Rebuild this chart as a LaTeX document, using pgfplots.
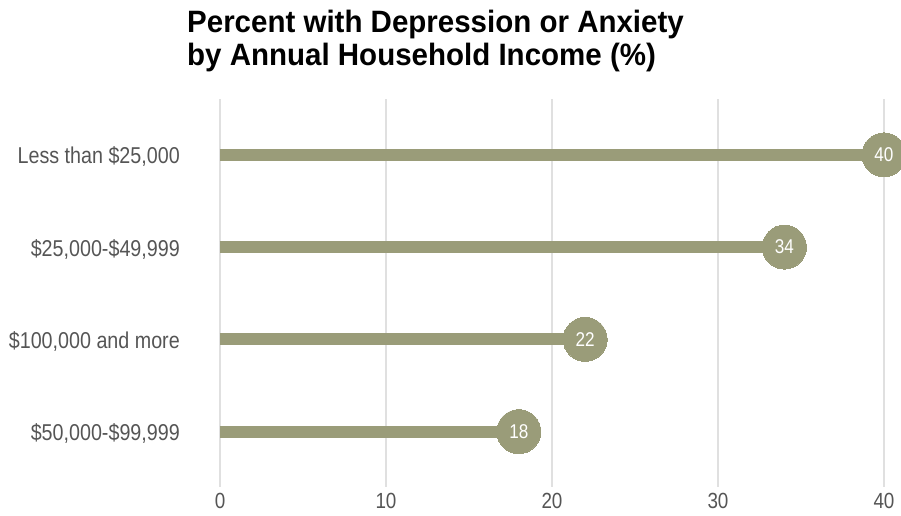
\documentclass[border=0pt]{standalone}
\usepackage{pgfplots}
\pgfplotsset{compat=1.18}
\usepackage{fontspec}
\setmainfont{Liberation Sans}
\newfontfamily\labfont{Liberation Sans}[FakeStretch=0.86]
\newfontfamily\titfont{Liberation Sans}[FakeStretch=0.955]
\definecolor{lol}{RGB}{154,156,121}
\definecolor{labgray}{RGB}{85,85,85}
\definecolor{gridgray}{RGB}{224,224,224}
\begin{document}
\begin{tikzpicture}
\useasboundingbox (-220bp,-29bp) rectangle (681bp,487bp);
\begin{axis}[
  at={(0,0)}, anchor=south west,
  scale only axis, width=664bp, height=387.5bp,
  xmin=0, xmax=40, ymin=-0.6, ymax=3.6,
  clip=false,
  axis line style={draw=none},
  major tick length=0pt,
  xtick={0,10,20,30,40},
  ytick={0,1,2,3},
  yticklabels={{\$50,000-\$99,999},{\$100,000 and more},{\$25,000-\$49,999},{Less than \$25,000}},
  xmajorgrids, ymajorgrids=false,
  grid style={color=gridgray, line width=1.1bp},
  /pgf/number format/assume math mode=true,
  yticklabel style={anchor=east, inner sep=0pt, xshift=-40bp, yshift=-2bp, font=\labfont\fontsize{23}{27}\selectfont, text=labgray},
  xticklabel style={anchor=north, inner sep=0pt, yshift=-6bp, font=\labfont\fontsize{22}{26}\selectfont, text=labgray},
]
\addplot[xcomb, line width=12bp, color=lol] coordinates {(18,0) (22,1) (34,2) (40,3)};
\addplot[color=lol, only marks, mark=*, mark size=22bp, mark options={fill=lol, draw=lol, line width=0pt},
  point meta=x, nodes near coords, nodes near coords align=center,
  every node near coord/.append style={anchor=center, text=white, font=\labfont\fontsize{20}{24}\selectfont,
    /pgf/number format/fixed, /pgf/number format/precision=0}]
  coordinates {(18,0) (22,1) (34,2) (40,3)};
\end{axis}
\node[anchor=base west, inner sep=0pt, font=\titfont\bfseries\fontsize{31}{35}\selectfont] at (-33bp,454bp) {Percent with Depression or Anxiety};
\node[anchor=base west, inner sep=0pt, font=\titfont\bfseries\fontsize{31}{35}\selectfont] at (-33bp,421bp) {by Annual Household Income (\%)};
\end{tikzpicture}
\end{document}
